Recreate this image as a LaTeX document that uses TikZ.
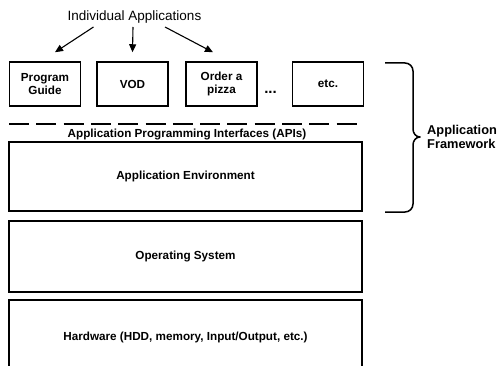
\documentclass[tikz,border=0pt]{standalone}
\usepackage{fontspec}
\setmainfont{Liberation Sans}
\usetikzlibrary{arrows.meta}

\begin{document}
\begin{tikzpicture}[
  x=1pt, y=-1pt,
  layer/.style={
    draw, line width=1.5pt,
    minimum width=353pt,
    font=\fontsize{11.7}{13}\selectfont\bfseries
  },
  app/.style={
    draw, line width=1.5pt,
    minimum width=71pt, minimum height=44pt,
    align=center, inner sep=0pt,
    font=\fontsize{11.7}{13}\selectfont\bfseries
  },
  pointer/.style={
    -{Triangle[length=8pt,width=7pt]},
    line width=1.1pt
  }
]
\path[use as bounding box, clip] (0,0) rectangle (503,366);

\node[inner sep=0pt, font=\fontsize{13.5}{15}\selectfont] (title) at (134.5,17) {Individual Applications};

\node[app] (guide) at (45,84) {Program\\Guide};
\node[app] (vod) at (132.5,84) {VOD};
\node[app] (pizza) at (221.5,84) {Order a\\pizza};
\node[app] (etc) at (328,84) {etc.};
\node[anchor=base, inner sep=0pt, font=\fontsize{15}{16}\selectfont\bfseries] (dots) at (270.5,94) {...};

\draw[pointer] ([xshift=-41pt,yshift=-10pt]title.center) -- ([xshift=10pt,yshift=9pt]guide.north);
\draw[pointer] ([xshift=-1.5pt,yshift=-10pt]title.center) -- ([yshift=9pt]vod.north);
\draw[pointer] ([xshift=30.5pt,yshift=-10pt]title.center) -- ([xshift=-8.5pt,yshift=9pt]pizza.north);

% API boundary
\coordinate (apiL) at (9,124);
\coordinate (apiR) at (358,124);
\draw[line width=1.6pt, dash pattern=on 20pt off 7.3pt] (apiL) -- (apiR);
\node[inner sep=0pt, font=\fontsize{11.7}{13}\selectfont\bfseries] (api) at (187,135) {Application Programming Interfaces (APIs)};

\node[layer, minimum height=69pt] (env) at (185.5,176.5) {Application Environment};
\node[layer, minimum height=71pt] (os) at (185.5,256.5) {Operating System};
\node[layer, minimum height=74pt] (hw) at (185.5,337) {Hardware (HDD, memory, Input/Output, etc.)};

% framework brace
\draw[line width=1.5pt, line join=round]
  (385,63) -- (405,63) to[out=0,in=90] (413,71) -- (413,129)
  to[out=-90,in=180] (420,137) to[out=180,in=90] (413,145)
  -- (413,204) to[out=-90,in=0] (405,212) -- (385,212);
\node[anchor=west, align=left, inner sep=0pt, font=\fontsize{12.8}{13.5}\selectfont\bfseries] (frame) at (427,137) {Application\\Framework};
\end{tikzpicture}
\end{document}
